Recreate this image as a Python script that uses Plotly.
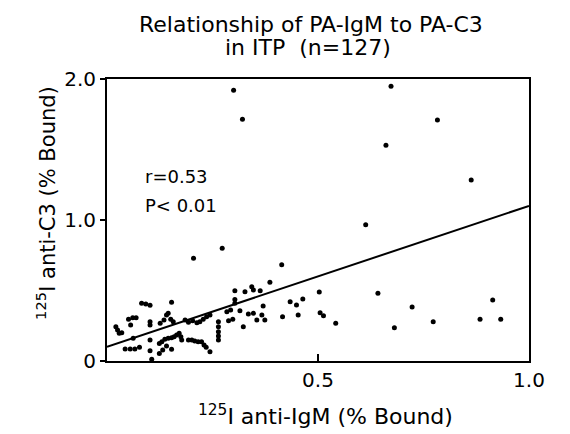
import plotly.graph_objects as go

# data
igm = [0.021, 0.025, 0.029, 0.035, 0.051, 0.056, 0.061, 0.069, 0.062, 0.043, 0.055, 0.066, 0.077,
       0.082, 0.092, 0.102, 0.102, 0.102, 0.102, 0.102, 0.106, 0.124, 0.126, 0.135, 0.141, 0.145,
       0.151, 0.157, 0.153, 0.124, 0.130, 0.137, 0.145, 0.153, 0.159, 0.165, 0.171, 0.175, 0.177,
       0.132, 0.141, 0.153, 0.185, 0.193, 0.203, 0.213, 0.220, 0.228, 0.236, 0.244, 0.193, 0.201,
       0.208, 0.216, 0.224, 0.230, 0.235, 0.244, 0.264, 0.264, 0.264, 0.264, 0.264, 0.284, 0.293,
       0.288, 0.298, 0.303, 0.303, 0.303, 0.315, 0.323, 0.327, 0.335, 0.343, 0.347, 0.347, 0.355,
       0.363, 0.367, 0.370, 0.374, 0.386,
       0.416, 0.434, 0.449, 0.464, 0.453, 0.503, 0.505, 0.513, 0.542, 0.642, 0.681, 0.723, 0.773,
       0.884, 0.914, 0.933,
       0.300, 0.321, 0.673, 0.783, 0.661, 0.863, 0.613, 0.273, 0.205, 0.414]
c3 = [0.243, 0.220, 0.196, 0.201, 0.296, 0.255, 0.307, 0.307, 0.161, 0.085, 0.085, 0.085, 0.097,
      0.409, 0.404, 0.395, 0.279, 0.255, 0.149, 0.073, 0.012, 0.054, 0.267, 0.291, 0.326, 0.338,
      0.296, 0.279, 0.416, 0.125, 0.137, 0.154, 0.161, 0.165, 0.172, 0.184, 0.196, 0.172, 0.149,
      0.078, 0.106, 0.083, 0.291, 0.274, 0.286, 0.272, 0.279, 0.296, 0.314, 0.326, 0.149, 0.149,
      0.142, 0.137, 0.137, 0.113, 0.097, 0.066, 0.279, 0.243, 0.208, 0.177, 0.149, 0.350, 0.362,
      0.286, 0.296, 0.499, 0.437, 0.409, 0.357, 0.243, 0.492, 0.333, 0.527, 0.504, 0.338, 0.291,
      0.499, 0.326, 0.390, 0.291, 0.558,
      0.314, 0.420, 0.397, 0.440, 0.326, 0.490, 0.343, 0.321, 0.267, 0.480, 0.236, 0.383, 0.279,
      0.296, 0.433, 0.296,
      1.920, 1.714, 1.948, 1.709, 1.530, 1.284, 0.967, 0.799, 0.728, 0.683]

fit_x = [0.0, 1.0]
fit_y = [0.10, 1.10]

x_ticks = [0.5, 1.0]
x_tick_text = ["0.5", "1.0"]
y_ticks = [0, 1.0, 2.0]
y_tick_text = ["0", "1.0", "2.0"]

font = "DejaVu Sans"

fig = go.Figure()
fig.add_trace(go.Scatter(x=fit_x, y=fit_y, mode="lines",
                         line=dict(color="black", width=2), showlegend=False))
fig.add_trace(go.Scatter(x=igm, y=c3, mode="markers",
                         marker=dict(color="black", size=5), showlegend=False))

fig.add_annotation(x=0.085, y=1.31, xref="x", yref="y", text="r=0.53", showarrow=False,
                   xanchor="left", font=dict(size=18, color="black", family=font))
fig.add_annotation(x=0.085, y=1.10, xref="x", yref="y", text="P< 0.01", showarrow=False,
                   xanchor="left", font=dict(size=18, color="black", family=font))

# titles as paper-positioned text
fig.add_annotation(x=0.483, y=1.195, xref="paper", yref="paper", showarrow=False,
                   text="Relationship of PA-IgM to PA-C3", xanchor="center", yanchor="middle",
                   font=dict(size=22, color="black", family=font))
fig.add_annotation(x=0.476, y=1.110, xref="paper", yref="paper", showarrow=False,
                   text="in ITP  (n=127)", xanchor="center", yanchor="middle",
                   font=dict(size=22, color="black", family=font))
fig.add_annotation(x=0.517, y=-0.192, xref="paper", yref="paper", showarrow=False,
                   text="<sup>125</sup>I anti-IgM (% Bound)", xanchor="center", yanchor="middle",
                   font=dict(size=22, color="black", family=font))
fig.add_annotation(x=-0.145, y=0.56, xref="paper", yref="paper", showarrow=False,
                   text="<sup>125</sup>I anti-C3 (% Bound)", textangle=-90,
                   xanchor="center", yanchor="middle",
                   font=dict(size=21, color="black", family=font))

fig.update_layout(
    width=570, height=434,
    margin=dict(l=107, r=41, t=79, b=73),
    paper_bgcolor="white", plot_bgcolor="white",
    font=dict(family=font, color="black"),
)
fig.update_xaxes(range=[0, 1.0], tickvals=x_ticks, ticktext=x_tick_text,
                 showline=True, linecolor="black", linewidth=2, mirror=True,
                 ticks="inside", ticklen=7, tickwidth=2, tickcolor="black",
                 showgrid=False, zeroline=False,
                 tickfont=dict(size=20, family=font))
fig.update_yaxes(range=[0, 2.0], tickvals=y_ticks, ticktext=y_tick_text,
                 showline=True, linecolor="black", linewidth=2, mirror=True,
                 ticks="outside", ticklen=5, tickwidth=2, tickcolor="black",
                 showgrid=False, zeroline=False,
                 tickfont=dict(size=20, family=font))

fig.write_html("out.html")
